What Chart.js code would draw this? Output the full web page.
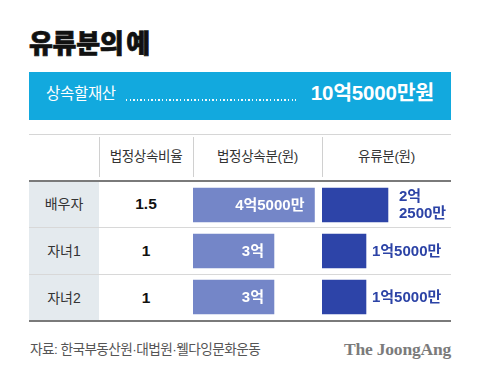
<!DOCTYPE html>
<html><head><meta charset="utf-8">
<script src="https://cdn.jsdelivr.net/npm/chart.js@4"></script>
<style>
html,body{margin:0;padding:0;background:#fff;}
body{width:480px;height:377px;position:relative;overflow:hidden;font-family:"Liberation Sans","Noto Sans CJK KR",sans-serif;}
.abs{position:absolute;}
#title{left:29px;top:25px;font-family:"Noto Sans CJK KR";font-weight:900;font-size:26px;color:#111;letter-spacing:-0.3px;word-spacing:-3px;line-height:34px;-webkit-text-stroke:0.7px #111;}
#banner{left:29px;top:72px;width:422px;height:48px;background:#12a9de;}
.hdr{top:146px;height:22px;line-height:22px;text-align:center;font-size:13.5px;color:#333;letter-spacing:-0.3px;}
.cell{height:22px;line-height:22px;text-align:center;}
canvas{position:absolute;}
</style></head>
<body>
<div id="title" class="abs">유류분의 예</div>
<div id="banner" class="abs"></div>
<div class="abs" style="left:46px;top:84px;font-size:15.5px;color:#fff;line-height:20px;letter-spacing:-0.3px;">상속할재산</div>
<div class="abs" style="left:126px;top:99px;width:170px;height:1.5px;background:repeating-linear-gradient(to right,rgba(255,255,255,0.95) 0 1.5px,transparent 1.5px 3.6px);"></div>
<div class="abs" style="left:270px;width:164px;text-align:right;top:82px;font-size:20.5px;font-weight:bold;color:#fff;line-height:22px;letter-spacing:-0.2px;">10억5000만원</div>

<div class="abs" style="left:29px;top:134px;width:422px;height:1px;background:#d6d6d6;"></div>
<div class="abs" style="left:99px;top:137px;width:1px;height:40px;background:#d0d0d0;"></div>
<div class="abs" style="left:193px;top:137px;width:1px;height:40px;background:#d0d0d0;"></div>
<div class="abs" style="left:322px;top:137px;width:1px;height:40px;background:#d0d0d0;"></div>
<div class="abs" style="left:29px;top:182px;width:70px;height:138px;background:#e4eaee;"></div>
<div class="abs" style="left:29px;top:227px;width:422px;height:1px;background:#d8d8d8;"></div>
<div class="abs" style="left:29px;top:274px;width:422px;height:1px;background:#d8d8d8;"></div>
<div class="abs" style="left:29px;top:180px;width:422px;height:2px;background:#7a7a7a;"></div>
<div class="abs" style="left:29px;top:320px;width:422px;height:2px;background:#7a7a7a;"></div>

<div id="cells"></div>

<canvas id="c1" width="129" height="138" style="left:193px;top:182px;"></canvas>
<canvas id="c2" width="129" height="138" style="left:322px;top:182px;"></canvas>

<div class="abs" style="left:30px;top:340px;font-size:13.7px;color:#555;letter-spacing:-0.6px;line-height:20px;font-family:'Liberation Sans','Noto Sans CJK KR',sans-serif;">자료: 한국부동산원·대법원·웰다잉문화운동</div>
<div class="abs" style="right:29px;top:339px;font-family:'Liberation Serif',serif;font-weight:bold;font-size:17.5px;color:#7b7b7b;line-height:20px;letter-spacing:-0.2px;">The JoongAng</div>

<script>
// ---- data ----
const headers = ['법정상속비율', '법정상속분(원)', '유류분(원)'];
const heirs = ['배우자', '자녀1', '자녀2'];
const ratios = ['1.5', '1', '1'];
const legalShare = [45000, 30000, 30000];     // 만원
const reservedShare = [22500, 15000, 15000];  // 만원

function fmt(v){
  const eok = Math.floor(v/10000), man = v % 10000;
  return [eok + '억', man ? man + '만' : ''];
}

// ---- table text ----
const cells = document.getElementById('cells');
const hdrX = [[99,193],[193,322],[322,451]];
headers.forEach((h,i)=>{
  const d=document.createElement('div');
  d.className='abs hdr';
  d.style.left=hdrX[i][0]+'px'; d.style.width=(hdrX[i][1]-hdrX[i][0])+'px';
  d.textContent=h; cells.appendChild(d);
});
const rowC=[204,251,297.5];
heirs.forEach((h,i)=>{
  const a=document.createElement('div');
  a.className='abs cell'; a.style.left='29px'; a.style.width='70px';
  a.style.top=(rowC[i]-11)+'px'; a.style.fontSize='14px'; a.style.color='#333';
  a.textContent=h; cells.appendChild(a);
  const b=document.createElement('div');
  b.className='abs cell'; b.style.left='99px'; b.style.width='94px';
  b.style.top=(rowC[i]-11)+'px'; b.style.fontSize='15.5px'; b.style.fontWeight='bold'; b.style.color='#111';
  b.textContent=ratios[i]; cells.appendChild(b);
});

const FONT = 'bold 15px "Liberation Sans","Noto Sans CJK KR",sans-serif';

const insideLabels = {
  id:'insideLabels',
  afterDatasetsDraw(chart){
    const ctx=chart.ctx;
    chart.getDatasetMeta(0).data.forEach((bar,i)=>{
      const t=fmt(chart.data.datasets[0].data[i]).join('');
      ctx.save(); ctx.font=FONT; ctx.fillStyle='#fff';
      ctx.textAlign='right'; ctx.textBaseline='middle';
      ctx.fillText(t, bar.x-10, bar.y+0.5); ctx.restore();
    });
  }
};
const outsideLabels = {
  id:'outsideLabels',
  afterDatasetsDraw(chart){
    const ctx=chart.ctx;
    chart.getDatasetMeta(0).data.forEach((bar,i)=>{
      const parts=fmt(chart.data.datasets[0].data[i]);
      ctx.save(); ctx.font=FONT; ctx.fillStyle='#2c43a6';
      ctx.textAlign='left'; ctx.textBaseline='middle';
      const x=bar.x+6, full=parts.join('');
      if (x+ctx.measureText(full).width > chart.width && parts[1]) {
        ctx.fillText(parts[0], bar.x+11, bar.y-8);
        ctx.fillText(parts[1], bar.x+11, bar.y+9);
      } else {
        ctx.fillText(full, x, bar.y+0.5);
      }
      ctx.restore();
    });
  }
};

function makeChart(id, data, color, max, plugin){
  return new Chart(document.getElementById(id), {
    type:'bar',
    data:{labels:heirs, datasets:[{data:data, backgroundColor:color, borderWidth:0, barThickness:34}]},
    options:{
      indexAxis:'y', responsive:false, animation:false, devicePixelRatio:1,
      layout:{padding:0},
      plugins:{legend:{display:false}, tooltip:{enabled:false}},
      scales:{
        x:{display:false, min:0, max:max},
        y:{display:false}
      }
    },
    plugins:[plugin]
  });
}
makeChart('c1', legalShare, '#7486c8', 47800, insideLabels);
makeChart('c2', reservedShare, '#2d44a8', 44000, outsideLabels);
</script>
</body></html>
